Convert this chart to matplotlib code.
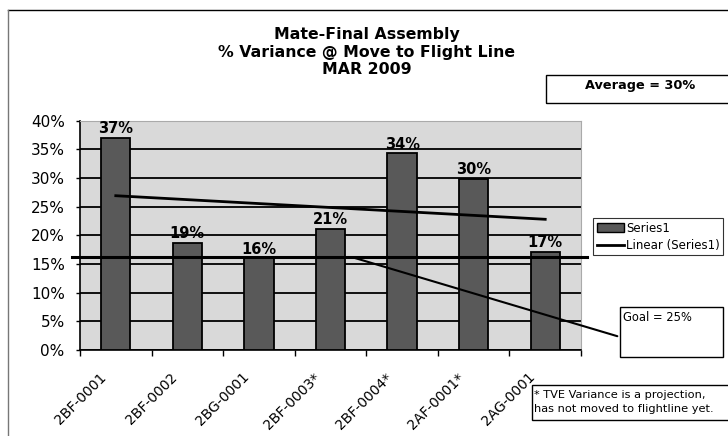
import matplotlib
matplotlib.use("Agg")
import matplotlib.pyplot as plt
import matplotlib.transforms as mtransforms
import numpy as np
from matplotlib.lines import Line2D
from matplotlib.patches import Rectangle, Patch

plt.rcParams['font.family'] = ['DejaVu Sans']

categories = ["2BF-0001", "2BF-0002", "2BG-0001", "2BF-0003*", "2BF-0004*", "2AF-0001*", "2AG-0001"]
values = [0.37, 0.187, 0.16, 0.211, 0.343, 0.298, 0.171]
value_labels = ["37%", "19%", "16%", "21%", "34%", "30%", "17%"]
yticks = [0.0, 0.05, 0.10, 0.15, 0.20, 0.25, 0.30, 0.35, 0.40]
ytick_labels = ["0%", "5%", "10%", "15%", "20%", "25%", "30%", "35%", "40%"]
ref_line_value = 0.162
title_lines = ["Mate-Final Assembly", "% Variance @ Move to Flight Line", "MAR 2009"]
average_text = "Average = 30%"
goal_text = "Goal = 25%"
note_text = "* TVE Variance is a projection,\nhas not moved to flightline yet."

W, H = 728, 436
fig = plt.figure(figsize=(W / 100, H / 100), dpi=100)
fig.patch.set_facecolor("white")

def fx(px):
    return px / W

def fy(py):
    return 1 - py / H

ax = fig.add_axes([fx(80), fy(350), fx(581) - fx(80), fy(120.7) - fy(350)])
ax.set_facecolor("#d9d9d9")
x = np.arange(len(categories))
ax.set_xlim(-0.5, len(categories) - 0.5)
ax.set_ylim(0, 0.40)

for yv in yticks:
    ax.axhline(yv, color="black", lw=1.3, zorder=1)

ax.bar(x, values, width=0.41, color="#595959", edgecolor="black", lw=1.3, zorder=3)

for xi, v, lab in zip(x, values, value_labels):
    ax.text(xi, v + 0.003, lab, ha="center", va="bottom", fontsize=10.5,
            fontweight="bold", zorder=5)

# linear trendline
coef = np.polyfit(x, values, 1)
ax.plot([x[0], x[-1]], np.polyval(coef, [x[0], x[-1]]), color="black", lw=2, zorder=4)

# horizontal reference line extending beyond plot area
ax.plot([-0.61, 6.58], [ref_line_value, ref_line_value], color="black", lw=2.2,
        zorder=4, clip_on=False)

ax.set_yticks(yticks)
ax.set_yticklabels(ytick_labels, fontsize=11)
ax.set_xticks(x)
ax.set_xticklabels([""] * len(categories))
ax.tick_params(axis="x", which="major", length=0)
# rotated category labels placed manually (offset from category centre)
lab_trans = ax.get_xaxis_transform() + mtransforms.ScaledTranslation(-0.17, -0.20, fig.dpi_scale_trans)
for xi, c in zip(x, categories):
    ax.text(xi, 0, c, transform=lab_trans, rotation=45, ha="right", va="top",
            rotation_mode="anchor", fontsize=10)
ax.set_xticks(np.arange(-0.5, len(categories) + 0.5, 1), minor=True)
ax.tick_params(axis="x", which="minor", length=4, width=1, direction="out")
ax.tick_params(axis="y", length=3, width=1, direction="out", pad=8)
for s in ["top", "right"]:
    ax.spines[s].set_color("#aaaaaa")
    ax.spines[s].set_linewidth(0.8)
ax.spines["left"].set_linewidth(1.2)
ax.spines["bottom"].set_linewidth(1.2)

# title
for i, t in enumerate(title_lines):
    fig.text(fx(367), fy(35 + 17.5 * i), t, ha="center", va="center",
             fontsize=11.3, fontweight="bold")

# average box
fig.add_artist(Rectangle((fx(546), fy(103)), fx(740) - fx(546), fy(75) - fy(103),
                         transform=fig.transFigure, fill=False, lw=1, edgecolor="black"))
fig.text(fx(640), fy(85), average_text, ha="center", va="center", fontsize=9.3, fontweight="bold")

# goal callout
fig.add_artist(Rectangle((fx(620), fy(357)), fx(723) - fx(620), fy(307) - fy(357),
                         transform=fig.transFigure, fill=True, facecolor="white",
                         lw=1, edgecolor="black"))
fig.text(fx(623), fy(317), goal_text, ha="left", va="center", fontsize=8.3)
ax.annotate("", xy=(3.3, ref_line_value), xycoords="data",
            xytext=(fx(620), fy(337)), textcoords="figure fraction",
            arrowprops=dict(arrowstyle="-", color="black", lw=1.5), zorder=6,
            annotation_clip=False)

# note box
fig.add_artist(Rectangle((fx(532), fy(420)), fx(740) - fx(532), fy(385) - fy(420),
                         transform=fig.transFigure, fill=True, facecolor="white",
                         lw=1, edgecolor="black"))
fig.text(fx(534), fy(402), note_text, ha="left", va="center", fontsize=8.2, linespacing=1.45)

# legend
handles = [Patch(facecolor="#595959", edgecolor="black", label="Series1"),
           Line2D([0], [0], color="black", lw=2, label="Linear (Series1)")]
leg = fig.legend(handles=handles, loc="upper left",
                 bbox_to_anchor=(fx(593), fy(218)), fontsize=8.5, frameon=True,
                 fancybox=False, edgecolor="black", handlelength=2.3,
                 borderpad=0.3, labelspacing=0.35, handletextpad=0.2, borderaxespad=0)
leg.get_frame().set_linewidth(0.8)

# outer chart border
fig.add_artist(Line2D([fx(8), fx(728)], [fy(10), fy(10)], transform=fig.transFigure,
                      color="black", lw=1))
fig.add_artist(Line2D([fx(8), fx(8)], [fy(10), fy(436)], transform=fig.transFigure,
                      color="#777777", lw=1))

fig.savefig("out.png", dpi=100, facecolor="white")
